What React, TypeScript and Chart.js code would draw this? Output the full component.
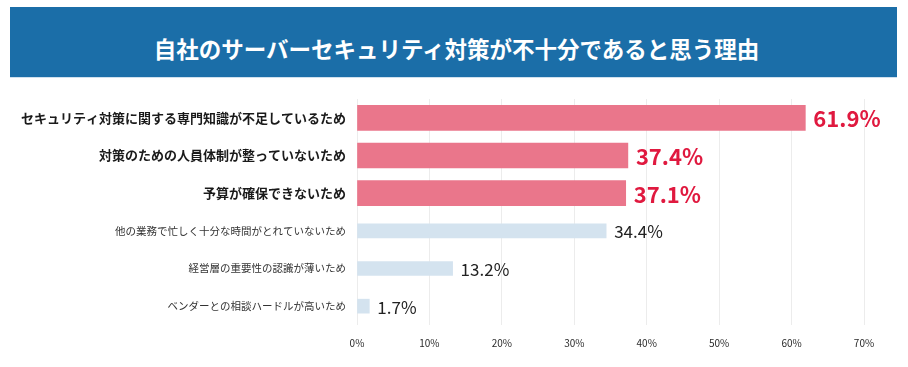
import React, { useEffect, useRef } from "react";
import { Chart, registerables } from "chart.js";

Chart.register(...registerables);

const title = "自社のサーバーセキュリティ対策が不十分であると思う理由";
const categories = [
  "セキュリティ対策に関する専門知識が不足しているため",
  "対策のための人員体制が整っていないため",
  "予算が確保できないため",
  "他の業務で忙しく十分な時間がとれていないため",
  "経営層の重要性の認識が薄いため",
  "ベンダーとの相談ハードルが高いため",
];
const highlightValues = [61.9, 37.4, 37.1, null, null, null];
const otherValues = [null, null, null, 34.4, 13.2, 1.7];
const xTicks = [0, 10, 20, 30, 40, 50, 60, 70];

const FONT = "'Noto Sans CJK JP', 'Noto Sans', sans-serif";

const valueLabels = {
  id: "valueLabels",
  afterDatasetsDraw(chart: any) {
    const ctx = chart.ctx;
    chart.data.datasets.forEach((ds: any, di: number) => {
      const meta = chart.getDatasetMeta(di);
      meta.data.forEach((el: any, i: number) => {
        const v = ds.data[i];
        if (v === null || v === undefined) return;
        ctx.save();
        if (di === 0) {
          ctx.font = `bold 22px ${FONT}`;
          ctx.fillStyle = "#e0193f";
        } else {
          ctx.font = `normal 17px ${FONT}`;
          ctx.fillStyle = "#222222";
        }
        ctx.textAlign = "left";
        ctx.textBaseline = "middle";
        ctx.fillText(v.toFixed(1) + "%", el.x + 8, el.y + 1);
        ctx.restore();
      });
    });
  },
};

export default function App() {
  const ref = useRef<HTMLCanvasElement | null>(null);

  useEffect(() => {
    document.body.style.margin = "0";
    const chart = new Chart(ref.current as HTMLCanvasElement, {
      type: "bar",
      data: {
        labels: categories,
        datasets: [
          {
            data: highlightValues as any,
            backgroundColor: "#ea768b",
            barThickness: 25,
            grouped: false,
          } as any,
          {
            data: otherValues as any,
            backgroundColor: "#d4e3ef",
            barThickness: 14,
            grouped: false,
          } as any,
        ],
      },
      options: {
        indexAxis: "y",
        animation: false,
        responsive: false,
        maintainAspectRatio: false,
        layout: { padding: { left: 0, right: 44, top: 99, bottom: 0 } },
        plugins: {
          legend: { display: false },
          tooltip: { enabled: false },
          title: { display: false },
        },
        scales: {
          x: {
            min: 0,
            max: 70,
            afterBuildTicks: (scale: any) => {
              scale.ticks = xTicks.map((v) => ({ value: v }));
            },
            afterFit: (scale: any) => {
              scale.height = 42;
            },
            grid: { color: "#ececec", drawTicks: false, lineWidth: 1 },
            border: { display: false },
            ticks: {
              padding: 12,
              color: "#2a2a2a",
              font: { family: FONT, size: 10 },
              callback: (v: any) => v + "%",
            },
          },
          y: {
            afterFit: (scale: any) => {
              scale.width = 357;
            },
            grid: { display: false, drawTicks: false },
            border: { display: false },
            ticks: {
              padding: 11,
              color: (c: any) => (c.index < 3 ? "#1a1a1a" : "#333333"),
              font: (c: any) =>
                c.index < 3
                  ? { family: FONT, size: 13, weight: "bold" }
                  : { family: FONT, size: 10.5, weight: "normal" },
            },
          },
        },
      },
      plugins: [valueLabels],
    } as any);
    return () => chart.destroy();
  }, []);

  return (
    <div style={{ position: "relative", width: 908, height: 367, background: "#ffffff" }}>
      <div
        style={{
          position: "absolute",
          left: 10,
          top: 7,
          width: 887,
          height: 71,
          background: "#1b6ea8",
          borderBottom: "1px solid #cfe0ee",
          display: "flex",
          alignItems: "center",
          justifyContent: "center",
          color: "#ffffff",
          fontFamily: FONT,
          fontWeight: "bold",
          fontSize: 22.5,
          paddingLeft: 6,
          paddingTop: 12,
          boxSizing: "border-box",
        }}
      >
        {title}
      </div>
      <canvas
        ref={ref}
        width={908}
        height={367}
        style={{ position: "absolute", left: 0, top: 0, width: 908, height: 367 }}
      />
    </div>
  );
}
